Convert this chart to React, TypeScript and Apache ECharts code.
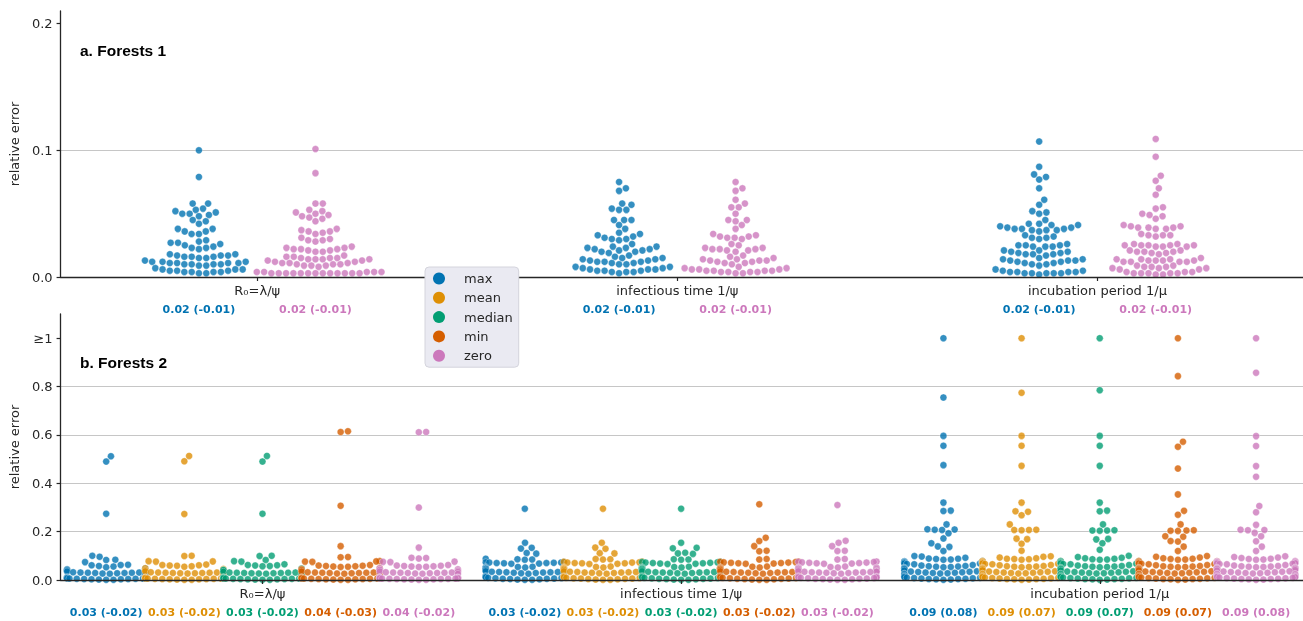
import { useEffect, useRef } from 'react';
import * as echarts from 'echarts';

// ---- categories, hues, labels ----
const PARAMETERS = ['R₀=λ/ψ', 'infectious time 1/ψ', 'incubation period 1/μ'];
const HUES = ['max', 'mean', 'median', 'min', 'zero'];
const HUE_COLORS = ['#0173b2', '#de8f05', '#029e73', '#d55e00', '#cc78bc'];
const Y_TICKS_A = [0, 0.1, 0.2];
const Y_TICKS_B = [0, 0.2, 0.4, 0.6, 0.8, 1.0];

// summary texts under each swarm: "median error (median bias)"
const F1_SUMMARY = [
  ['0.02 (-0.01)', '0.02 (-0.01)'],
  ['0.02 (-0.01)', '0.02 (-0.01)'],
  ['0.02 (-0.01)', '0.02 (-0.01)'],
];
const F2_SUMMARY = [
  ['0.03 (-0.02)', '0.03 (-0.02)', '0.03 (-0.02)', '0.04 (-0.03)', '0.04 (-0.02)'],
  ['0.03 (-0.02)', '0.03 (-0.02)', '0.03 (-0.02)', '0.03 (-0.02)', '0.03 (-0.02)'],
  ['0.09 (0.08)', '0.09 (0.07)', '0.09 (0.07)', '0.09 (0.07)', '0.09 (0.08)'],
];

// ---- a. Forests 1: relative errors ----
const f1MaxR0 = [
  0.100, 0.079, 0.058, 0.058, 0.054, 0.053, 0.052, 0.051, 0.050, 0.050, 0.049, 0.048,
  0.045, 0.044, 0.042, 0.038, 0.038, 0.036, 0.036, 0.034, 0.034,
  0.029, 0.028, 0.027, 0.027, 0.026, 0.025, 0.024, 0.023, 0.023, 0.022,
  0.018, 0.018, 0.017, 0.017, 0.017, 0.016, 0.016, 0.016, 0.015, 0.015,
  0.013, 0.012, 0.012, 0.012, 0.011, 0.011, 0.011, 0.011, 0.010, 0.010, 0.010, 0.010, 0.009, 0.009,
  0.007, 0.006, 0.006, 0.006, 0.005, 0.005, 0.005, 0.004, 0.004, 0.004, 0.004, 0.003, 0.003,
];
const f1ZeroR0 = [
  0.101, 0.082, 0.058, 0.058, 0.053, 0.052, 0.051, 0.050, 0.049, 0.048, 0.047, 0.046, 0.044,
  0.038, 0.037, 0.036, 0.036, 0.035, 0.034, 0.031, 0.030, 0.029, 0.029, 0.028,
  0.024, 0.023, 0.023, 0.022, 0.022, 0.022, 0.021, 0.021, 0.020, 0.020,
  0.017, 0.016, 0.016, 0.015, 0.015, 0.015, 0.014, 0.014, 0.014, 0.014, 0.013, 0.013,
  0.012, 0.012, 0.011, 0.011, 0.011, 0.010, 0.010, 0.010, 0.009, 0.009, 0.009, 0.008,
  0.004, 0.004, 0.004, 0.004, 0.004, 0.003, 0.003, 0.003, 0.003, 0.003, 0.003, 0.003, 0.003, 0.003,
  0.003, 0.003, 0.003, 0.003,
];
const f1MaxInfectious = [
  0.075, 0.070, 0.068, 0.058, 0.057, 0.054, 0.053, 0.053, 0.045, 0.045, 0.045, 0.041, 0.038,
  0.035, 0.034, 0.033, 0.032, 0.031, 0.030, 0.030, 0.029,
  0.026, 0.024, 0.024, 0.023, 0.023, 0.022, 0.022, 0.021, 0.021, 0.020, 0.020, 0.019,
  0.017, 0.016, 0.015, 0.015, 0.014, 0.014, 0.013, 0.013, 0.012, 0.012, 0.012, 0.011, 0.011, 0.010, 0.010,
  0.008, 0.008, 0.007, 0.007, 0.006, 0.006, 0.006, 0.005, 0.005, 0.005, 0.004, 0.004, 0.004, 0.003,
];
const f1ZeroInfectious = [
  0.075, 0.070, 0.068, 0.061, 0.058, 0.055, 0.055, 0.050, 0.045, 0.045, 0.044, 0.041, 0.038,
  0.034, 0.033, 0.032, 0.032, 0.031, 0.031, 0.030,
  0.026, 0.025, 0.023, 0.023, 0.022, 0.022, 0.022, 0.021, 0.021, 0.020,
  0.017, 0.016, 0.015, 0.014, 0.014, 0.013, 0.013, 0.013, 0.012, 0.012, 0.011, 0.011, 0.010,
  0.008, 0.007, 0.007, 0.006, 0.006, 0.006, 0.005, 0.005, 0.005, 0.005, 0.004, 0.004, 0.004, 0.004,
  0.003, 0.003,
];
const f1MaxIncubation = [
  0.107, 0.087, 0.081, 0.079, 0.077, 0.070, 0.061, 0.057, 0.052, 0.051, 0.050, 0.045,
  0.042, 0.042, 0.041, 0.041, 0.040, 0.039, 0.039, 0.038, 0.038, 0.038, 0.037, 0.037, 0.037, 0.036,
  0.033, 0.032, 0.031, 0.031, 0.030, 0.026, 0.025, 0.025, 0.025, 0.024, 0.024, 0.024,
  0.021, 0.021, 0.020, 0.020, 0.019, 0.019, 0.018, 0.018, 0.018, 0.017,
  0.015, 0.014, 0.014, 0.013, 0.013, 0.013, 0.012, 0.012, 0.011, 0.011, 0.010, 0.010, 0.009,
  0.006, 0.005, 0.005, 0.004, 0.004, 0.004, 0.004, 0.003, 0.003, 0.003, 0.003, 0.003, 0.002,
];
const f1ZeroIncubation = [
  0.109, 0.095, 0.080, 0.076, 0.070, 0.065, 0.055, 0.054, 0.050, 0.049, 0.048, 0.046,
  0.041, 0.040, 0.040, 0.039, 0.039, 0.039, 0.038, 0.038, 0.034, 0.033, 0.033, 0.033, 0.032,
  0.026, 0.026, 0.025, 0.025, 0.025, 0.025, 0.025, 0.024, 0.024, 0.024,
  0.021, 0.021, 0.020, 0.020, 0.020, 0.019, 0.019, 0.018,
  0.015, 0.014, 0.014, 0.014, 0.013, 0.013, 0.013, 0.013, 0.012, 0.012, 0.012, 0.012,
  0.009, 0.009, 0.008, 0.008, 0.008, 0.007, 0.007, 0.007, 0.006, 0.006,
  0.004, 0.004, 0.004, 0.003, 0.003, 0.003, 0.003, 0.003, 0.002, 0.002,
];

// ---- b. Forests 2: relative errors (values of 1 or more are drawn at 1) ----
const f2MaxR0 = [
  0.512, 0.490, 0.274, 0.100, 0.096, 0.084, 0.083, 0.074, 0.063, 0.062, 0.061, 0.058, 0.056, 0.053,
  0.047, 0.044, 0.040,
  0.042, 0.038, 0.035, 0.033, 0.032, 0.031, 0.031, 0.030, 0.030, 0.029, 0.029, 0.028, 0.027, 0.026, 0.024,
  0.012, 0.010, 0.009, 0.008, 0.008, 0.007, 0.007, 0.006, 0.006, 0.006, 0.005, 0.005, 0.004, 0.004,
  0.003, 0.003, 0.002, 0.001, 0.001,
];
const f2MeanR0 = [
  0.513, 0.491, 0.273, 0.100, 0.099, 0.078, 0.077, 0.076, 0.064, 0.062, 0.061, 0.060, 0.059, 0.057, 0.055,
  0.048, 0.045, 0.041,
  0.040, 0.036, 0.034, 0.032, 0.031, 0.031, 0.030, 0.030, 0.029, 0.029, 0.028, 0.028, 0.027, 0.025,
  0.011, 0.010, 0.009, 0.008, 0.008, 0.007, 0.007, 0.006, 0.006, 0.006, 0.005, 0.005, 0.004, 0.004,
  0.003, 0.003, 0.002, 0.001, 0.001,
];
const f2MedianR0 = [
  0.513, 0.490, 0.274, 0.100, 0.099, 0.083, 0.078, 0.076, 0.065, 0.062, 0.061, 0.060, 0.058, 0.057,
  0.047, 0.045, 0.041,
  0.041, 0.037, 0.034, 0.032, 0.031, 0.031, 0.030, 0.030, 0.029, 0.029, 0.028, 0.028, 0.027, 0.026, 0.024,
  0.012, 0.010, 0.009, 0.008, 0.008, 0.007, 0.007, 0.006, 0.006, 0.006, 0.005, 0.005, 0.004, 0.004,
  0.003, 0.003, 0.002, 0.001, 0.001,
];
const f2MinR0 = [
  0.615, 0.612, 0.307, 0.140, 0.095, 0.094, 0.078, 0.077, 0.076, 0.075,
  0.062, 0.060, 0.059, 0.058, 0.057, 0.056, 0.055, 0.054, 0.048, 0.045, 0.041,
  0.043, 0.038, 0.035, 0.033, 0.032, 0.031, 0.031, 0.030, 0.030, 0.029, 0.029, 0.028, 0.027, 0.026, 0.025,
  0.012, 0.011, 0.009, 0.008, 0.008, 0.007, 0.007, 0.006, 0.006, 0.006, 0.005, 0.005, 0.004, 0.004,
  0.003, 0.003, 0.002, 0.001, 0.001,
];
const f2ZeroR0 = [
  0.612, 0.611, 0.300, 0.134, 0.092, 0.091, 0.089, 0.076, 0.075, 0.074,
  0.062, 0.060, 0.059, 0.058, 0.057, 0.056, 0.055, 0.054, 0.048, 0.044, 0.041,
  0.042, 0.038, 0.035, 0.033, 0.032, 0.031, 0.031, 0.030, 0.030, 0.029, 0.029, 0.028, 0.027, 0.026, 0.025,
  0.012, 0.011, 0.010, 0.009, 0.008, 0.008, 0.007, 0.007, 0.006, 0.006, 0.005, 0.005, 0.004, 0.004,
  0.003, 0.003, 0.002, 0.001, 0.001,
];
const f2MaxInfectious = [
  0.295, 0.154, 0.133, 0.130, 0.112, 0.109, 0.088, 0.086, 0.085, 0.084,
  0.074, 0.073, 0.072, 0.072, 0.071, 0.070, 0.070, 0.069, 0.068, 0.067,
  0.055, 0.054, 0.053, 0.052, 0.051, 0.050, 0.049, 0.048, 0.047, 0.046, 0.045,
  0.041, 0.039,
  0.036, 0.035, 0.034, 0.034, 0.033, 0.033, 0.032, 0.032, 0.031, 0.030, 0.029, 0.028, 0.026,
  0.016, 0.014, 0.013, 0.012, 0.011, 0.010, 0.009, 0.008, 0.007, 0.006, 0.005, 0.005, 0.004, 0.003, 0.002,
  0.001, 0.001,
];
const f2MeanInfectious = [
  0.295, 0.154, 0.134, 0.129, 0.111, 0.110, 0.087, 0.086, 0.085,
  0.076, 0.075, 0.073, 0.072, 0.072, 0.070, 0.069, 0.069, 0.067, 0.066,
  0.056, 0.054, 0.053, 0.052, 0.051, 0.050, 0.049, 0.048, 0.047, 0.046, 0.044,
  0.042, 0.039,
  0.036, 0.035, 0.035, 0.034, 0.033, 0.033, 0.032, 0.031, 0.031, 0.030, 0.029, 0.028, 0.026,
  0.015, 0.014, 0.013, 0.012, 0.011, 0.010, 0.009, 0.008, 0.007, 0.006, 0.006, 0.005, 0.004, 0.003, 0.002,
  0.001, 0.001,
];
const f2MedianInfectious = [
  0.295, 0.154, 0.133, 0.131, 0.113, 0.110, 0.108, 0.086, 0.085, 0.084,
  0.075, 0.074, 0.073, 0.072, 0.071, 0.070, 0.069, 0.068, 0.067, 0.066,
  0.055, 0.054, 0.053, 0.052, 0.051, 0.050, 0.049, 0.048, 0.047, 0.046, 0.045,
  0.041, 0.040,
  0.036, 0.035, 0.034, 0.034, 0.033, 0.032, 0.032, 0.031, 0.031, 0.030, 0.029, 0.028, 0.026,
  0.016, 0.014, 0.013, 0.012, 0.011, 0.010, 0.009, 0.008, 0.007, 0.006, 0.005, 0.005, 0.004, 0.003, 0.002,
  0.001, 0.001,
];
const f2MinInfectious = [
  0.313, 0.175, 0.161, 0.140, 0.121, 0.119, 0.087, 0.085,
  0.076, 0.075, 0.074, 0.073, 0.072, 0.071, 0.070, 0.069, 0.068, 0.067,
  0.056, 0.055, 0.053, 0.052, 0.051, 0.050, 0.049, 0.048, 0.047, 0.046, 0.045,
  0.042, 0.040,
  0.036, 0.035, 0.034, 0.034, 0.033, 0.033, 0.032, 0.031, 0.031, 0.030, 0.029, 0.028, 0.026,
  0.016, 0.014, 0.013, 0.012, 0.011, 0.010, 0.009, 0.008, 0.007, 0.006, 0.005, 0.005, 0.004, 0.003, 0.002,
  0.001, 0.001,
];
const f2ZeroInfectious = [
  0.310, 0.162, 0.154, 0.140, 0.121, 0.120, 0.087, 0.085,
  0.076, 0.075, 0.074, 0.073, 0.072, 0.071, 0.070, 0.069, 0.068, 0.067,
  0.056, 0.054, 0.053, 0.052, 0.051, 0.050, 0.049, 0.048, 0.047, 0.046, 0.045,
  0.041, 0.039,
  0.036, 0.035, 0.034, 0.034, 0.033, 0.032, 0.032, 0.031, 0.031, 0.030, 0.029, 0.028, 0.026,
  0.016, 0.014, 0.013, 0.012, 0.011, 0.010, 0.009, 0.008, 0.007, 0.006, 0.005, 0.005, 0.004, 0.003, 0.002,
  0.001, 0.001,
];
const f2MaxIncubation = [
  1.0, 0.755, 0.596, 0.555, 0.475, 0.320, 0.287, 0.285, 0.230, 0.210, 0.209, 0.208, 0.207,
  0.193, 0.172, 0.152, 0.139, 0.137, 0.120,
  0.099, 0.097, 0.092, 0.089, 0.088, 0.087, 0.085, 0.084,
  0.078, 0.077, 0.075, 0.075, 0.073, 0.072, 0.072, 0.070, 0.069, 0.068, 0.068, 0.066, 0.065,
  0.062, 0.060,
  0.058, 0.057, 0.056, 0.055, 0.054, 0.053, 0.052, 0.051, 0.050, 0.049, 0.048, 0.047, 0.046, 0.045,
  0.041, 0.039,
  0.036, 0.035, 0.034, 0.033, 0.032, 0.031, 0.030, 0.029, 0.028, 0.027, 0.026, 0.025, 0.024, 0.023,
  0.018, 0.017,
  0.014, 0.013, 0.012, 0.011, 0.010, 0.009, 0.008, 0.007, 0.006, 0.005, 0.004, 0.004, 0.003, 0.002, 0.001,
];
const f2MeanIncubation = [
  1.0, 0.774, 0.596, 0.555, 0.472, 0.320, 0.284, 0.282, 0.268, 0.230, 0.208, 0.207, 0.207, 0.206,
  0.171, 0.169, 0.150, 0.121,
  0.098, 0.096, 0.093, 0.090, 0.088, 0.087, 0.086, 0.084,
  0.078, 0.077, 0.076, 0.075, 0.074, 0.072, 0.071, 0.070, 0.069, 0.068, 0.067, 0.066, 0.065,
  0.062, 0.061,
  0.058, 0.057, 0.056, 0.055, 0.054, 0.053, 0.052, 0.051, 0.050, 0.049, 0.048, 0.047, 0.046, 0.045,
  0.041, 0.040,
  0.036, 0.035, 0.034, 0.033, 0.032, 0.031, 0.030, 0.029, 0.028, 0.027, 0.026, 0.025, 0.024, 0.023,
  0.018, 0.016,
  0.014, 0.013, 0.012, 0.011, 0.010, 0.009, 0.008, 0.007, 0.006, 0.005, 0.004, 0.004, 0.003, 0.002, 0.001,
];
const f2MedianIncubation = [
  1.0, 0.785, 0.596, 0.555, 0.472, 0.320, 0.287, 0.284, 0.230, 0.206, 0.205, 0.205, 0.204,
  0.170, 0.168, 0.152, 0.125,
  0.100, 0.095, 0.092, 0.090, 0.088, 0.086, 0.085, 0.084,
  0.078, 0.077, 0.076, 0.075, 0.074, 0.073, 0.071, 0.070, 0.069, 0.068, 0.067, 0.066, 0.065,
  0.062, 0.060,
  0.058, 0.057, 0.056, 0.055, 0.054, 0.053, 0.052, 0.051, 0.050, 0.049, 0.048, 0.047, 0.046, 0.045,
  0.041, 0.039,
  0.036, 0.035, 0.034, 0.033, 0.032, 0.031, 0.030, 0.029, 0.028, 0.027, 0.026, 0.025, 0.024, 0.023,
  0.018, 0.017,
  0.014, 0.013, 0.012, 0.011, 0.010, 0.009, 0.008, 0.007, 0.006, 0.005, 0.004, 0.004, 0.003, 0.002, 0.001,
];
const f2MinIncubation = [
  1.0, 0.843, 0.572, 0.551, 0.461, 0.354, 0.286, 0.270, 0.230, 0.206, 0.205, 0.204, 0.203,
  0.181, 0.179, 0.161, 0.159, 0.138, 0.120,
  0.099, 0.096, 0.093, 0.090, 0.088, 0.087, 0.085, 0.084,
  0.078, 0.077, 0.076, 0.075, 0.074, 0.073, 0.071, 0.070, 0.069, 0.068, 0.067, 0.066, 0.065,
  0.062, 0.061,
  0.058, 0.057, 0.056, 0.055, 0.054, 0.053, 0.052, 0.051, 0.050, 0.049, 0.048, 0.047, 0.046, 0.045,
  0.042, 0.040,
  0.036, 0.035, 0.034, 0.033, 0.032, 0.031, 0.030, 0.029, 0.028, 0.027, 0.026, 0.025, 0.024, 0.023,
  0.018, 0.016,
  0.014, 0.013, 0.012, 0.011, 0.010, 0.009, 0.008, 0.007, 0.006, 0.005, 0.004, 0.004, 0.003, 0.002, 0.001,
];
const f2ZeroIncubation = [
  1.0, 0.857, 0.595, 0.554, 0.471, 0.427, 0.306, 0.280, 0.228, 0.208, 0.207, 0.206, 0.195,
  0.181, 0.160, 0.138, 0.120,
  0.098, 0.095, 0.093, 0.091, 0.088, 0.087, 0.085, 0.084,
  0.078, 0.077, 0.076, 0.075, 0.074, 0.073, 0.072, 0.070, 0.069, 0.068, 0.067, 0.066, 0.065,
  0.062, 0.060,
  0.058, 0.057, 0.056, 0.055, 0.054, 0.053, 0.052, 0.051, 0.050, 0.049, 0.048, 0.047, 0.046, 0.045,
  0.041, 0.039,
  0.036, 0.035, 0.034, 0.033, 0.032, 0.031, 0.030, 0.029, 0.028, 0.027, 0.026, 0.025, 0.024, 0.023,
  0.018, 0.017,
  0.014, 0.013, 0.012, 0.011, 0.010, 0.009, 0.008, 0.007, 0.006, 0.005, 0.004, 0.004, 0.003, 0.002, 0.001,
];

// hue -> [R0, infectious, incubation]
const FORESTS1 = [
  { hue: 0, groups: [f1MaxR0, f1MaxInfectious, f1MaxIncubation] },
  { hue: 4, groups: [f1ZeroR0, f1ZeroInfectious, f1ZeroIncubation] },
];
const FORESTS2 = [
  { hue: 0, groups: [f2MaxR0, f2MaxInfectious, f2MaxIncubation] },
  { hue: 1, groups: [f2MeanR0, f2MeanInfectious, f2MeanIncubation] },
  { hue: 2, groups: [f2MedianR0, f2MedianInfectious, f2MedianIncubation] },
  { hue: 3, groups: [f2MinR0, f2MinInfectious, f2MinIncubation] },
  { hue: 4, groups: [f2ZeroR0, f2ZeroInfectious, f2ZeroIncubation] },
];

// ---- layout ----
const X_RANGE_A = [-0.468, 2.4893];
const X_RANGE_B = [-0.4823, 2.4855];
const DODGE_A = 0.1387; // hue offset in panel a
const DODGE_B = 0.1867; // hue slot width in panel b
const DOT = 7; // marker diameter, px
const INK = '#262626';
const GRID_COLOR = '#c6c6c6';
const FONT = 'DejaVu Sans';

// drawing order: panel a marks < panel a x-axis < legend < panel b grid < panel b marks < panel b x-axis
const Z = { seriesA: 1, xAxisA: 2, legend: 3, yAxisB: 4, seriesB: 5, xAxisB: 6 };

// swarm layout: points sorted by value, each placed at the free spot nearest the
// centre line; points beyond the slot half-width are pushed onto its edge.
function swarmOffsets(ys: number[], d: number, half: number): number[] {
  const order = ys.map((_, i) => i).sort((a, b) => ys[a] - ys[b]);
  const placed: { x: number; y: number }[] = [];
  const out: number[] = ys.map(() => 0);
  const d2 = d * d;
  for (const i of order) {
    const y = ys[i];
    const near = placed.filter((p) => Math.abs(p.y - y) < d);
    const cands = [0];
    for (const p of near) {
      const dx = Math.sqrt(d2 - (y - p.y) * (y - p.y)) * 1.05;
      cands.push(p.x + dx, p.x - dx);
    }
    cands.sort((a, b) => Math.abs(a) - Math.abs(b));
    let x = cands[cands.length - 1];
    for (const c of cands) {
      if (near.every((p) => (p.x - c) ** 2 + (p.y - y) ** 2 >= d2 * 0.999)) {
        x = c;
        break;
      }
    }
    placed.push({ x, y });
    out[i] = Math.max(-half, Math.min(half, x));
  }
  return out;
}

type Scale = { px: number; py: number };

function swarmSeries(
  hue: number,
  groups: number[][],
  hueOffset: number,
  halfSlot: number,
  scale: Scale,
  xAxisIndex: number,
  yAxisIndex: number,
  z: number,
) {
  const data: number[][] = [];
  groups.forEach((vals, c) => {
    const offs = swarmOffsets(
      vals.map((v) => v * scale.py),
      DOT,
      halfSlot * scale.px,
    );
    vals.forEach((v, k) => data.push([c + hueOffset + offs[k] / scale.px, v]));
  });
  return {
    type: 'scatter',
    name: HUES[hue],
    xAxisIndex,
    yAxisIndex,
    z,
    data,
    symbol: 'circle',
    symbolSize: DOT,
    silent: true,
    itemStyle: {
      color: HUE_COLORS[hue],
      opacity: 0.8,
      borderColor: '#ffffff',
      borderWidth: 0.4,
    },
  };
}

const summaryRich: Record<string, object> = {};
HUE_COLORS.forEach((c, i) => {
  summaryRich['h' + i] = { color: c, fontWeight: 'bold', fontSize: 11, fontFamily: FONT };
});

function summaryAxis(gridIndex: number, range: number[], items: { pos: number; text: string; hue: number }[], margin: number) {
  return {
    type: 'value',
    gridIndex,
    position: 'bottom',
    min: range[0],
    max: range[1],
    axisLine: { show: false },
    axisTick: { show: false },
    splitLine: { show: false },
    axisLabel: {
      customValues: items.map((it) => it.pos),
      margin,
      formatter: (v: number) => {
        let best = items[0];
        for (const it of items) if (Math.abs(it.pos - v) < Math.abs(best.pos - v)) best = it;
        return `{h${best.hue}|${best.text}}`;
      },
      rich: summaryRich,
    },
  };
}

function categoryAxis(gridIndex: number, range: number[], z: number) {
  return {
    type: 'value',
    gridIndex,
    position: 'bottom',
    min: range[0],
    max: range[1],
    z,
    axisLine: { show: true, onZero: false, lineStyle: { color: INK, width: 1.3 } },
    axisTick: { show: true, customValues: [0, 1, 2], length: 4, lineStyle: { color: INK, width: 1.2 } },
    splitLine: { show: false },
    axisLabel: {
      customValues: [0, 1, 2],
      margin: 7,
      fontSize: 13,
      color: INK,
      fontFamily: FONT,
      formatter: (v: number) => PARAMETERS[Math.round(v)],
    },
  };
}

function valueAxis(gridIndex: number, max: number, interval: number, ticks: number[], z: number) {
  return {
    type: 'value',
    gridIndex,
    position: 'left',
    min: 0,
    max,
    interval,
    z,
    name: 'relative error',
    nameLocation: 'middle',
    nameGap: 34,
    nameTextStyle: { fontSize: 13, color: INK, fontFamily: FONT },
    axisLine: { show: true, onZero: false, lineStyle: { color: INK, width: 1.3 } },
    axisTick: { show: true, customValues: ticks, length: 4, lineStyle: { color: INK, width: 1.2 } },
    splitLine: { show: true, showMinLine: false, showMaxLine: false, lineStyle: { color: GRID_COLOR, width: 1 } },
    axisLabel: {
      customValues: ticks,
      margin: 8,
      fontSize: 13,
      color: INK,
      fontFamily: FONT,
      formatter: (v: number) => (v >= 0.999 ? '≥1' : v.toFixed(1)),
    },
  };
}

function baseOption() {
  const itemsA: { pos: number; text: string; hue: number }[] = [];
  F1_SUMMARY.forEach((row, c) => {
    itemsA.push({ pos: c - DODGE_A, text: row[0], hue: 0 });
    itemsA.push({ pos: c + DODGE_A, text: row[1], hue: 4 });
  });
  const itemsB: { pos: number; text: string; hue: number }[] = [];
  F2_SUMMARY.forEach((row, c) => {
    row.forEach((t, h) => itemsB.push({ pos: c + (h - 2) * DODGE_B, text: t, hue: h }));
  });
  return {
    animation: false,
    textStyle: { fontFamily: FONT },
    title: [
      {
        text: 'a. Forests 1',
        left: 80,
        top: 42,
        padding: 0,
        textStyle: { fontFamily: 'Liberation Sans', fontWeight: 'bold', fontSize: 15.5, color: '#000' },
      },
      {
        text: 'b. Forests 2',
        left: 80,
        top: 354,
        padding: 0,
        textStyle: { fontFamily: 'Liberation Sans', fontWeight: 'bold', fontSize: 15.5, color: '#000' },
      },
    ],
    legend: {
      data: HUES,
      orient: 'vertical',
      left: 425,
      top: 267,
      z: Z.legend,
      selectedMode: false,
      icon: 'circle',
      itemWidth: 20,
      itemHeight: 12,
      itemGap: 6.3,
      padding: [5, 6, 5, 8],
      backgroundColor: '#eaeaf2',
      borderColor: '#d4d4dc',
      borderWidth: 1,
      borderRadius: 4,
      itemStyle: { opacity: 1, borderWidth: 0 },
      textStyle: { fontSize: 13, color: INK, fontFamily: FONT, padding: [0, 0, 0, 10] },
    },
    grid: [
      { left: 58, top: 11, width: 1245, height: 266 },
      { left: 58, top: 314, width: 1245, height: 266 },
    ],
    xAxis: [
      categoryAxis(0, X_RANGE_A, Z.xAxisA),
      summaryAxis(0, X_RANGE_A, itemsA, 27),
      categoryAxis(1, X_RANGE_B, Z.xAxisB),
      summaryAxis(1, X_RANGE_B, itemsB, 26.5),
    ],
    yAxis: [valueAxis(0, 0.21, 0.1, Y_TICKS_A, 0), valueAxis(1, 1.1, 0.2, Y_TICKS_B, Z.yAxisB)],
    series: [] as object[],
  };
}

function measure(chart: echarts.ECharts, xAxisIndex: number, yAxisIndex: number): Scale {
  const p0 = chart.convertToPixel({ xAxisIndex, yAxisIndex }, [0, 0]) as number[];
  const p1 = chart.convertToPixel({ xAxisIndex, yAxisIndex }, [1, 1]) as number[];
  return { px: p1[0] - p0[0], py: p0[1] - p1[1] };
}

export default function App() {
  const ref = useRef<HTMLDivElement>(null);
  useEffect(() => {
    if (!ref.current) return;
    const chart = echarts.init(ref.current, null, { renderer: 'svg' });
    chart.setOption(baseOption());
    const scaleA = measure(chart, 0, 0);
    const scaleB = measure(chart, 2, 1);
    const series: object[] = [];
    FORESTS1.forEach((s) => {
      const off = s.hue === 0 ? -DODGE_A : DODGE_A;
      series.push(swarmSeries(s.hue, s.groups, off, 10, scaleA, 0, 0, Z.seriesA));
    });
    FORESTS2.forEach((s) => {
      series.push(swarmSeries(s.hue, s.groups, (s.hue - 2) * DODGE_B, DODGE_B / 2, scaleB, 2, 1, Z.seriesB));
    });
    chart.setOption({ series });
    return () => chart.dispose();
  }, []);
  return <div ref={ref} style={{ position: 'fixed', left: 0, top: 0, width: 1303, height: 621 }} />;
}
